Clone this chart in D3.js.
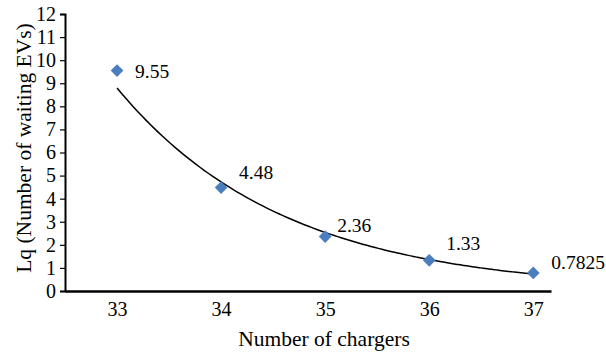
<!DOCTYPE html>
<html><head><meta charset="utf-8">
<script src="https://cdn.jsdelivr.net/npm/d3@7"></script>
<style>body{margin:0;background:#fff}svg{display:block}</style>
</head><body>
<svg id="c" width="606" height="353"></svg>
<script>
const chargers = [33, 34, 35, 36, 37];
const lqValues = [9.55, 4.48, 2.36, 1.33, 0.7825];
const lqLabels = ["9.55", "4.48", "2.36", "1.33", "0.7825"];
const yTicks = [0,1,2,3,4,5,6,7,8,9,10,11,12];
const xTitle = "Number of chargers";
const yTitle = "Lq (Number of waiting EVs)";

const svg = d3.select("#c");
const font = "'Liberation Serif', 'Times New Roman', serif";
const x = d3.scaleLinear().domain([32.5, 37.17]).range([65, 551]);
const y = d3.scaleLinear().domain([0, 12]).range([291, 14]);

// y axis
const ya = svg.append("g").attr("transform","translate(65,0)")
  .call(d3.axisLeft(y).tickValues(yTicks).tickSize(5).tickPadding(4));
ya.select(".domain").attr("stroke","#000").attr("stroke-width",2);
ya.selectAll(".tick line").attr("stroke","#000").attr("stroke-width",1.2);
ya.selectAll("text").attr("font-family",font).attr("font-size",20).attr("fill","#000");

// x axis
const xa = svg.append("g").attr("transform","translate(0,291)")
  .call(d3.axisBottom(x).tickValues(chargers).tickSize(0).tickPadding(11).tickFormat(d3.format("d")));
xa.select(".domain").attr("stroke","#000").attr("stroke-width",2.5);
xa.selectAll("text").attr("font-family",font).attr("font-size",20).attr("fill","#000");

// exponential trendline (least squares on ln y)
const n = chargers.length;
const mx = d3.mean(chargers), ml = d3.mean(lqValues, v => Math.log(v));
let sxy = 0, sxx = 0;
chargers.forEach((c,i) => { sxy += (c-mx)*(Math.log(lqValues[i])-ml); sxx += (c-mx)*(c-mx); });
const b = sxy/sxx, a = ml - b*mx;
const trend = d3.range(0, 101).map(k => {
  const cx = chargers[0] + (chargers[n-1]-chargers[0])*k/100;
  return [cx, Math.exp(a + b*cx)];
});
svg.append("path").datum(trend)
  .attr("d", d3.line().x(d => x(d[0])).y(d => y(d[1])).curve(d3.curveMonotoneX))
  .attr("fill","none").attr("stroke","#000").attr("stroke-width",1.5);

// markers
svg.selectAll(".m").data(chargers).enter().append("path")
  .attr("transform",(d,i) => `translate(${x(d)},${y(lqValues[i])}) rotate(45)`)
  .attr("d","M-4.5,-4.5h9v9h-9z").attr("fill","#4a7ebf");

// labels
const offs = [[18,7],[18,-9],[12,-5],[17,-10],[18,-4]];
svg.selectAll(".l").data(chargers).enter().append("text")
  .attr("x",(d,i) => x(d)+offs[i][0]).attr("y",(d,i) => y(lqValues[i])+offs[i][1])
  .attr("font-family",font).attr("font-size",19.5).attr("fill","#000")
  .text((d,i) => lqLabels[i]);

// titles
svg.append("text").attr("x",324).attr("y",346).attr("text-anchor","middle")
  .attr("font-family",font).attr("font-size",21.5).attr("fill","#000").text(xTitle);
svg.append("text").attr("transform","translate(31,148) rotate(-90)").attr("text-anchor","middle")
  .attr("font-family",font).attr("font-size",21.5).attr("fill","#000").text(yTitle);
</script>
</body></html>
